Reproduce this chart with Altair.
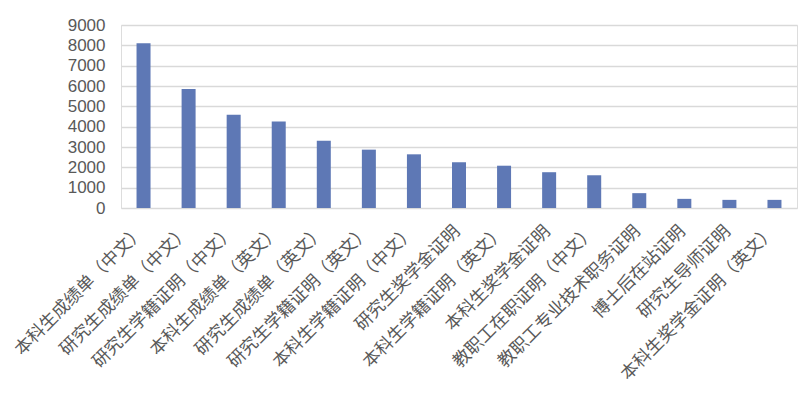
import altair as alt
import pandas as pd

categories = [
    "本科生成绩单（中文）", "研究生成绩单（中文）", "研究生学籍证明（中文）",
    "本科生成绩单（英文）", "研究生成绩单（英文）", "研究生学籍证明（英文）",
    "本科生学籍证明（中文）", "研究生奖学金证明", "本科生学籍证明（英文）",
    "本科生奖学金证明", "教职工在职证明（中文）", "教职工专业技术职务证明",
    "博士后在站证明", "研究生导师证明", "本科生奖学金证明（英文）",
]
values = [8100, 5850, 4580, 4250, 3310, 2870, 2640, 2250, 2080, 1760, 1610, 730, 450, 400, 400]
y_ticks = [0, 1000, 2000, 3000, 4000, 5000, 6000, 7000, 8000, 9000]

df = pd.DataFrame({"cat": categories, "val": values})

chart = alt.Chart(df).mark_bar(size=14, color="#5E78B5").encode(
    x=alt.X("cat:N", sort=categories, title=None,
            scale=alt.Scale(paddingOuter=0, paddingInner=0),
            axis=alt.Axis(labelAngle=-45, labelFontSize=17.5, labelColor="#595959",
                          labelFont="Noto Sans CJK SC", ticks=False, domain=False,
                          labelPadding=14, labelOffset=-8, labelLimit=300)),
    y=alt.Y("val:Q", title=None,
            scale=alt.Scale(domain=[0, 9000]),
            axis=alt.Axis(values=y_ticks, format="d", labelFontSize=17, labelColor="#595959",
                          labelFont="Liberation Sans", ticks=False, domain=False,
                          gridColor="#D9D9D9", gridWidth=1.5, labelPadding=16)),
).properties(
    width=676, height=183,
    autosize=alt.AutoSizeParams(type="none"),
    padding={"left": 121, "top": 25, "right": 1, "bottom": 187},
).configure_view(stroke=None).configure(background="white")

chart.save("out.html", embed_options={"renderer": "svg", "actions": False})
